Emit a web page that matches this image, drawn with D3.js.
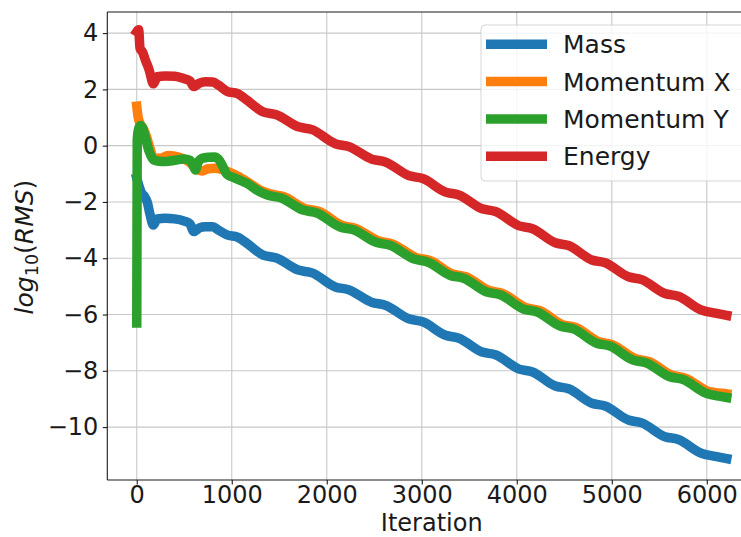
<!DOCTYPE html>
<html><head><meta charset="utf-8">
<script src="https://cdn.jsdelivr.net/npm/d3@7"></script>
<style>body{margin:0;background:#fff}svg{display:block}</style>
</head><body><svg id="c" width="741" height="537"></svg>
<script>
const seriesNames = ["Mass", "Momentum X", "Momentum Y", "Energy"];
const seriesColors = ["#1f77b4", "#ff7f0e", "#2ca02c", "#d62728"];
const xTicks = [0, 1000, 2000, 3000, 4000, 5000, 6000];
const yTicks = [4, 2, 0, -2, -4, -6, -8, -10];

// [iteration, log10(RMS)]
const mass = [[0,-1.15],[25,-1.45],[50,-1.68],[80,-1.8],[110,-2.0],[140,-2.45],[175,-2.82],[215,-2.6],[300,-2.58],[400,-2.6],[500,-2.68],[560,-2.78],[600,-3.05],[660,-2.92],[720,-2.88],[800,-2.88],[860,-3.0],[950,-3.17],[1060,-3.25],[1160,-3.47],[1260,-3.74],[1330,-3.89],[1470,-3.99],[1700,-4.42],[1845,-4.52],[2090,-5.02],[2230,-5.12],[2475,-5.57],[2615,-5.67],[2870,-6.16],[3010,-6.26],[3250,-6.74],[3390,-6.84],[3635,-7.33],[3775,-7.43],[4025,-7.94],[4165,-8.04],[4405,-8.54],[4545,-8.64],[4790,-9.15],[4930,-9.25],[5175,-9.75],[5315,-9.85],[5560,-10.34],[5700,-10.44],[5950,-10.94],[6090,-11.04],[6210,-11.12]];

const momentumX = [[0,1.4],[15,1.0],[40,0.75],[70,0.6],[100,0.35],[140,-0.1],[180,-0.45],[250,-0.45],[330,-0.35],[400,-0.37],[480,-0.45],[560,-0.6],[620,-0.8],[690,-0.9],[750,-0.82],[820,-0.8],[900,-0.85],[980,-0.95],[1060,-1.08],[1180,-1.32],[1300,-1.58],[1405,-1.71],[1545,-1.81],[1775,-2.24],[1920,-2.34],[2165,-2.84],[2305,-2.94],[2550,-3.39],[2690,-3.49],[2945,-3.98],[3085,-4.08],[3325,-4.56],[3465,-4.66],[3710,-5.15],[3850,-5.25],[4100,-5.76],[4240,-5.86],[4480,-6.36],[4620,-6.46],[4865,-6.97],[5005,-7.07],[5250,-7.57],[5390,-7.67],[5635,-8.16],[5775,-8.26],[6025,-8.74],[6165,-8.80],[6210,-8.82]];

const momentumY = [[0,-6.3],[5,0.2],[20,0.6],[40,0.72],[60,0.64],[90,0.3],[130,-0.2],[175,-0.5],[230,-0.55],[300,-0.56],[400,-0.52],[500,-0.47],[560,-0.52],[600,-0.75],[618,-0.86],[645,-0.6],[690,-0.45],[760,-0.41],[820,-0.40],[860,-0.48],[900,-0.7],[950,-1.02],[1040,-1.16],[1160,-1.34],[1300,-1.65],[1380,-1.76],[1520,-1.86],[1750,-2.29],[1895,-2.39],[2140,-2.89],[2280,-2.99],[2525,-3.44],[2665,-3.54],[2920,-4.03],[3060,-4.13],[3300,-4.61],[3440,-4.71],[3685,-5.20],[3825,-5.30],[4075,-5.81],[4215,-5.91],[4455,-6.41],[4595,-6.51],[4840,-7.02],[4980,-7.12],[5225,-7.62],[5365,-7.72],[5610,-8.21],[5750,-8.31],[6000,-8.81],[6140,-8.91],[6210,-8.95]];

const energy = [[0,4.05],[20,4.12],[35,3.45],[60,3.33],[90,3.05],[130,2.7],[175,2.2],[215,2.45],[300,2.48],[400,2.47],[500,2.38],[560,2.30],[600,2.10],[660,2.22],[720,2.27],[800,2.26],[860,2.15],[950,1.93],[1060,1.85],[1160,1.62],[1260,1.35],[1330,1.20],[1470,1.10],[1700,0.67],[1845,0.57],[2090,0.07],[2230,-0.03],[2475,-0.48],[2615,-0.58],[2870,-1.07],[3010,-1.17],[3250,-1.65],[3390,-1.75],[3635,-2.24],[3775,-2.34],[4025,-2.85],[4165,-2.95],[4405,-3.45],[4545,-3.55],[4790,-4.06],[4930,-4.16],[5175,-4.66],[5315,-4.76],[5560,-5.25],[5700,-5.35],[5950,-5.85],[6090,-5.95],[6210,-6.03]];

const allSeries = [mass, momentumX, momentumY, energy];

const svg = d3.select("#c");
const L = 107.3, R = 756.2, T = 12, B = 480;
const x = d3.scaleLinear().domain([-310, 6520]).range([L, R]);
const y = d3.scaleLinear().domain([-11.88, 4.75]).range([B, T]);
const font = "DejaVu Sans, sans-serif";
const ink = "#1a1a1a";

svg.append("defs").append("clipPath").attr("id","clip")
  .append("rect").attr("x",L).attr("y",T).attr("width",R-L).attr("height",B-T);

// grid
const grid = svg.append("g");
grid.selectAll("line.gx").data(xTicks).join("line")
  .attr("x1",d=>x(d)).attr("x2",d=>x(d)).attr("y1",T).attr("y2",B)
  .attr("stroke","#c8c8c8").attr("stroke-width",1.1);
grid.selectAll("line.gy").data(yTicks).join("line")
  .attr("y1",d=>y(d)).attr("y2",d=>y(d)).attr("x1",L).attr("x2",R)
  .attr("stroke","#c8c8c8").attr("stroke-width",1.1);

// lines
const line = d3.line().x(d=>x(d[0])).y(d=>y(d[1])).curve(d3.curveMonotoneX);
const lg = svg.append("g").attr("clip-path","url(#clip)");
allSeries.forEach((s,i)=>{
  lg.append("path").attr("d", line(s)).attr("fill","none")
    .attr("stroke", seriesColors[i]).attr("stroke-width", 9.5)
    .attr("stroke-linejoin","round").attr("stroke-linecap","square");
});

// axes
const fmt = d => (d < 0 ? "\u2212" + Math.abs(d) : String(d));
const xa = svg.append("g").attr("transform",`translate(0,${B})`)
  .call(d3.axisBottom(x).tickValues(xTicks).tickFormat(fmt).tickSize(4.5).tickPadding(4.5));
const ya = svg.append("g").attr("transform",`translate(${L},0)`)
  .call(d3.axisLeft(y).tickValues(yTicks).tickFormat(fmt).tickSize(4.5).tickPadding(4.5));
[xa, ya].forEach(a=>{
  a.select(".domain").remove();
  a.selectAll(".tick line").attr("stroke",ink).attr("stroke-width",1.1);
  a.selectAll(".tick text").attr("fill",ink).style("font-family",font).style("font-size","24px");
});
xa.selectAll(".tick text").attr("dy","14px");

// spines
svg.append("line").attr("x1",L).attr("x2",L).attr("y1",T).attr("y2",B).attr("stroke",ink).attr("stroke-width",1.1);
svg.append("line").attr("x1",L).attr("x2",R).attr("y1",B).attr("y2",B).attr("stroke",ink).attr("stroke-width",1.1);
svg.append("line").attr("x1",L).attr("x2",R).attr("y1",T).attr("y2",T).attr("stroke",ink).attr("stroke-width",1.1);
svg.append("line").attr("x1",R).attr("x2",R).attr("y1",T).attr("y2",B).attr("stroke",ink).attr("stroke-width",1.1);

// axis labels
svg.append("text").attr("x",(L+R)/2).attr("y",531).attr("text-anchor","middle")
  .style("font-family",font).style("font-size","24px").attr("fill",ink).text("Iteration");
const yl = svg.append("text").attr("transform","translate(33,247) rotate(-90)").attr("text-anchor","middle")
  .style("font-family",font).style("font-size","25px").attr("fill",ink);
yl.append("tspan").style("font-style","italic").text("log");
yl.append("tspan").style("font-size","17.5px").attr("dy",5).text("10");
yl.append("tspan").attr("dy",-5).text("(");
yl.append("tspan").style("font-style","italic").text("RMS");
yl.append("tspan").text(")");

// legend
const leg = svg.append("g");
leg.append("rect").attr("x",481).attr("y",25).attr("width",290).attr("height",156).attr("rx",4)
  .attr("fill","#fff").attr("fill-opacity",0.8).attr("stroke","#cccccc").attr("stroke-opacity",0.8);
seriesNames.forEach((n,i)=>{
  const cy = 44.3 + i*37.3;
  leg.append("line").attr("x1",486).attr("x2",547).attr("y1",cy).attr("y2",cy)
    .attr("stroke",seriesColors[i]).attr("stroke-width",9.5);
  leg.append("text").attr("x",563).attr("y",cy+9).style("font-family",font).style("font-size","25px")
    .attr("fill",ink).text(n);
});
</script></body></html>
